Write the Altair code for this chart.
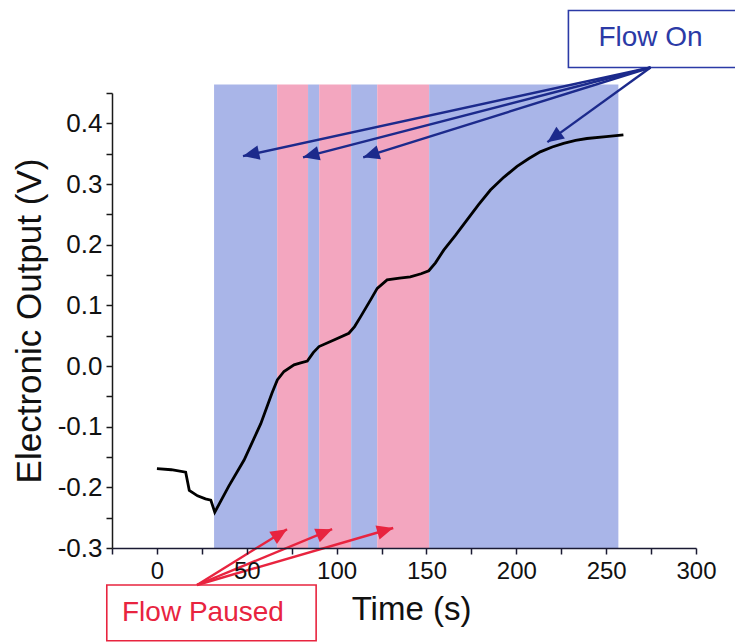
import math
import altair as alt
import pandas as pd

# ---- data ----
time_s = [0, 8, 16, 17, 18, 22.6, 27, 30, 32.2, 40, 48.5, 57.8, 64, 67, 70.7, 76.3, 80, 83.7,
          87, 90.2, 98.5, 106.8, 110, 113.3, 118.9, 122.6, 128.1, 135, 141, 147, 151.3, 155,
          159.6, 166, 172.6, 179, 185.6, 193, 200.4, 207, 213.3, 220, 226.3, 233, 239.3, 250, 259.6]
output_v = [-0.169, -0.171, -0.175, -0.19, -0.205, -0.214, -0.219, -0.221, -0.241, -0.198, -0.155,
            -0.095, -0.045, -0.023, -0.009, 0.002, 0.005, 0.008, 0.022, 0.032, 0.043, 0.054, 0.065,
            0.081, 0.109, 0.128, 0.142, 0.145, 0.147, 0.152, 0.157, 0.170, 0.191, 0.215, 0.241,
            0.266, 0.290, 0.311, 0.329, 0.342, 0.353, 0.361, 0.367, 0.372, 0.375, 0.378, 0.381]

seg_start = [31.8, 66.9, 84.1, 90.3, 108.1, 122.6, 151.5]
seg_end = [66.9, 84.1, 90.3, 108.1, 122.6, 151.5, 256.8]
seg_state = ["on", "paused", "on", "paused", "on", "paused", "on"]
shade_top = 0.464
shade_bottom = -0.3

on_origin = [274.7, 0.492]
on_tip_x = [47.9, 81.3, 114.8, 217.3]
on_tip_y = [0.346, 0.344, 0.344, 0.369]
paused_origin = [22.3, -0.361]
paused_tip_x = [72.4, 97.5, 131.5]
paused_tip_y = [-0.269, -0.269, -0.267]

box_label = ["Flow On", "Flow Paused"]
box_x = [229.0, -27.9]
box_x2 = [330.0, 88.6]
box_y = [0.492, -0.361]
box_y2 = [0.586, -0.453]
label_x = [274.7, 25.6]
label_y = [0.540, -0.407]

x_ticks = list(range(-25, 301, 25))
y_ticks = [round(-0.3 + 0.05 * i, 2) for i in range(16)]

# ---- layout / style ----
W, H = 584, 455
X_DOM = [-25, 300]
Y_DOM = [-0.3, 0.45]
BLUE_SHADE = "#a9b5e8"
PINK_SHADE = "#f3a6bf"
NAVY = "#1c2a8c"
RED = "#e8243f"
FONT = "Liberation Sans"

sx = W / (X_DOM[1] - X_DOM[0])
sy = H / (Y_DOM[1] - Y_DOM[0])

xs = alt.Scale(domain=X_DOM, nice=False, zero=False)
ys = alt.Scale(domain=Y_DOM, nice=False, zero=False)

curve = pd.DataFrame({"t": time_s, "v": output_v})
shade = pd.DataFrame({"x": seg_start, "x2": seg_end, "state": seg_state,
                      "y": [shade_bottom] * len(seg_start), "y2": [shade_top] * len(seg_start)})

arrow_rows = []
for tx, ty in zip(on_tip_x, on_tip_y):
    arrow_rows.append({"x": on_origin[0], "y": on_origin[1], "x2": tx, "y2": ty, "kind": "on"})
for tx, ty in zip(paused_tip_x, paused_tip_y):
    arrow_rows.append({"x": paused_origin[0], "y": paused_origin[1], "x2": tx, "y2": ty, "kind": "paused"})
arrows = pd.DataFrame(arrow_rows)
arrows["angle"] = [
    (math.degrees(math.atan2((r.x2 - r.x) * sx, (r.y2 - r.y) * sy)) + 360) % 360
    for r in arrows.itertuples()
]

boxes = pd.DataFrame({"label": box_label, "x": box_x, "x2": box_x2, "y": box_y, "y2": box_y2,
                      "lx": label_x, "ly": label_y})

kind_color = alt.Scale(domain=["on", "paused"], range=[NAVY, RED])
label_color = alt.Scale(domain=box_label, range=["#2b3aa6", RED])

x_axis = alt.Axis(
    values=x_ticks,
    labelExpr="datum.value % 50 === 0 ? datum.label : ''",
    format="d",
    tickSize=6,
    labelPadding=5,
    labelFontSize=24,
    labelFont=FONT,
    labelColor="#111111",
    labelFlush=False,
    labelOverlap=False,
    grid=False,
    domainColor="#1a1a33",
    tickColor="#1a1a33",
    domainWidth=1.5,
    tickWidth=1.5,
    title="Time (s)",
    titleFont=FONT,
    titleFontSize=33,
    titleFontWeight="normal",
    titleColor="#111111",
    titleBaseline="alphabetic",
    titleY=71,
    titleX=299,
    zindex=1,
)
y_axis = alt.Axis(
    values=y_ticks,
    labelExpr="abs(round(datum.value*100)) % 10 === 0 ? replace(format(datum.value, '.1f'), '\u2212', '-') : ''",
    tickSize=6,
    labelPadding=4,
    labelFontSize=26,
    labelFont=FONT,
    labelColor="#111111",
    labelFlush=False,
    labelOverlap=False,
    grid=False,
    domainColor="#1a1a1a",
    tickColor="#1a1a1a",
    domainWidth=1.5,
    tickWidth=1.5,
    title="Electronic Output (V)",
    titleFont=FONT,
    titleFontSize=35,
    titleFontWeight="normal",
    titleColor="#111111",
    titleAngle=270,
    titleBaseline="alphabetic",
    titleX=-72,
    titleY=H / 2,
    zindex=1,
)

shade_layer = alt.Chart(shade).mark_rect(opacity=1).encode(
    x=alt.X("x:Q", scale=xs, axis=x_axis),
    x2="x2:Q",
    y=alt.Y("y:Q", scale=ys, axis=y_axis),
    y2="y2:Q",
    color=alt.Color("state:N", scale=alt.Scale(domain=["on", "paused"], range=[BLUE_SHADE, PINK_SHADE]),
                    legend=None),
)

curve_layer = alt.Chart(curve).mark_line(color="#000000", strokeWidth=2.8).encode(
    x=alt.X("t:Q", scale=xs, axis=x_axis),
    y=alt.Y("v:Q", scale=ys, axis=y_axis),
)

box_layer = alt.Chart(boxes).mark_rect(fill="white", strokeWidth=1.6).encode(
    x=alt.X("x:Q", scale=xs, axis=x_axis),
    x2="x2:Q",
    y=alt.Y("y:Q", scale=ys, axis=y_axis),
    y2="y2:Q",
    stroke=alt.Stroke("label:N", scale=label_color, legend=None),
)

arrow_lines = alt.Chart(arrows).mark_rule(strokeWidth=2.4).encode(
    x=alt.X("x:Q", scale=xs, axis=x_axis),
    y=alt.Y("y:Q", scale=ys, axis=y_axis),
    x2="x2:Q",
    y2="y2:Q",
    color=alt.Color("kind:N", scale=kind_color, legend=None),
)

arrow_heads = alt.Chart(arrows).mark_point(
    shape="M0,0L-0.8,1.8L0.8,1.8Z", filled=True, size=330, opacity=1
).encode(
    x=alt.X("x2:Q", scale=xs, axis=x_axis),
    y=alt.Y("y2:Q", scale=ys, axis=y_axis),
    angle=alt.Angle("angle:Q", scale=None),
    color=alt.Color("kind:N", scale=kind_color, legend=None),
)

label_layer = alt.Chart(boxes).mark_text(font=FONT, fontSize=28, align="center", baseline="middle").encode(
    x=alt.X("lx:Q", scale=xs, axis=x_axis),
    y=alt.Y("ly:Q", scale=ys, axis=y_axis),
    text="label:N",
    color=alt.Color("label:N", scale=label_color, legend=None),
)

chart = (
    alt.layer(shade_layer, curve_layer, box_layer, arrow_lines, arrow_heads, label_layer)
    .resolve_scale(color="independent", stroke="independent")
    .properties(
        width=W,
        height=H,
        autosize=alt.AutoSizeParams(type="none"),
        padding={"left": 112, "top": 93, "right": 39, "bottom": 95},
        background="white",
    )
    .configure_view(stroke=None)
)

chart.save("out.html", embed_options={"renderer": "svg", "actions": False})
